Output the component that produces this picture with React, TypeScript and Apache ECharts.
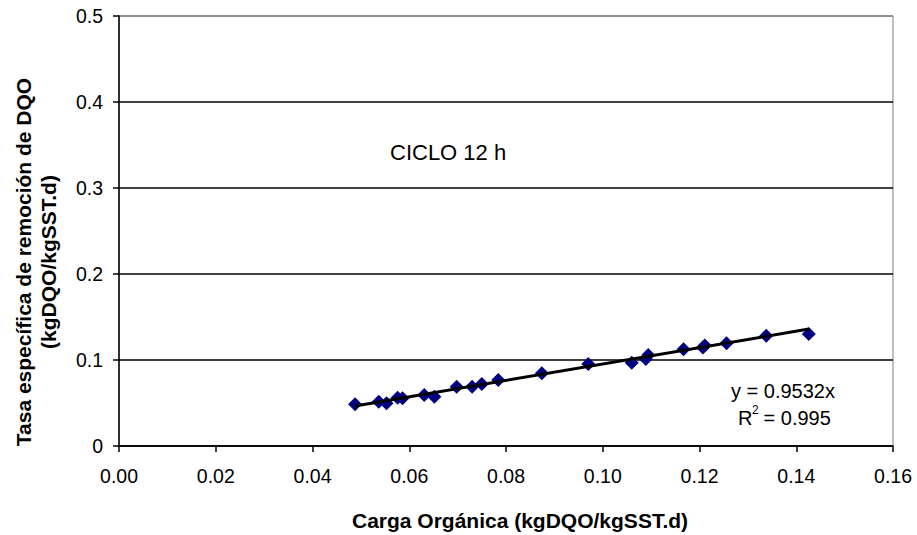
import React, { useEffect, useRef } from "react";
import * as echarts from "echarts";

const xValues = [0.0488, 0.0537, 0.0553, 0.0576, 0.0586, 0.0631, 0.0652, 0.0698, 0.0730, 0.0750, 0.0784, 0.0874, 0.0970, 0.1060, 0.1089, 0.1094, 0.1167, 0.1207, 0.1211, 0.1256, 0.1338, 0.1426];
const yValues = [0.0485, 0.0515, 0.0497, 0.0562, 0.0555, 0.0593, 0.0573, 0.0690, 0.0690, 0.0721, 0.0767, 0.0845, 0.0953, 0.0969, 0.1012, 0.1058, 0.1124, 0.1145, 0.1169, 0.1194, 0.1283, 0.1302];
const slope = 0.9532;
const trendX = [0.0488, 0.1426];
const xTicks = { min: 0, max: 0.16, interval: 0.02 };
const yTicks = { min: 0, max: 0.5, interval: 0.1 };
const xTitle = "Carga Orgánica (kgDQO/kgSST.d)";
const yTitle = "Tasa específica de remoción de DQO\n(kgDQO/kgSST.d)";
const note = "CICLO 12 h";
const eqText = "y = 0.9532x";
const r2Value = "0.995";

const FONT = "'Liberation Sans', Arial, sans-serif";

export default function App() {
  const ref = useRef<HTMLDivElement>(null);
  useEffect(() => {
    document.body.style.margin = "0";
    const chart = echarts.init(ref.current!, null, { renderer: "svg" });
    const scatter = xValues.map((x, i) => [x, yValues[i]]);
    const trend = trendX.map((x) => [x, slope * x]);
    chart.setOption({
      animation: false,
      backgroundColor: "#ffffff",
      textStyle: { fontFamily: FONT },
      grid: {
        left: 119,
        right: 24,
        top: 16,
        bottom: 89,
        show: true,
        borderColor: "#808080",
        borderWidth: 1,
      },
      xAxis: {
        type: "value",
        min: xTicks.min,
        max: xTicks.max,
        interval: xTicks.interval,
        axisLine: { show: true, lineStyle: { color: "#000", width: 1.5 } },
        axisTick: { show: true, length: 6, lineStyle: { color: "#000", width: 1.5 } },
        axisLabel: {
          margin: 20,
          fontSize: 19.5,
          color: "#000",
          fontFamily: FONT,
          formatter: (v: number) => v.toFixed(2),
        },
        splitLine: { show: false },
      },
      yAxis: {
        type: "value",
        min: yTicks.min,
        max: yTicks.max,
        interval: yTicks.interval,
        axisLine: { show: true, lineStyle: { color: "#000", width: 1.5 } },
        axisTick: { show: true, length: 6, lineStyle: { color: "#000", width: 1.5 } },
        axisLabel: {
          margin: 16,
          fontSize: 19.5,
          color: "#000",
          fontFamily: FONT,
          formatter: (v: number) => (v === 0 ? "0" : v.toFixed(1)),
        },
        splitLine: {
          show: true,
          lineStyle: { color: ["#000", "#000", "#000", "#000", "#000", "#808080"], width: 1.5 },
        },
      },
      series: [
        {
          type: "line",
          data: trend,
          symbol: "none",
          lineStyle: { color: "#000", width: 3 },
          z: 3,
        },
        {
          type: "scatter",
          data: scatter,
          symbol: "diamond",
          symbolSize: 14,
          itemStyle: { color: "#000080", opacity: 1 },
          z: 2,
        },
      ],
      graphic: [
        {
          type: "text",
          x: 390,
          y: 152,
          style: { text: note, fontSize: 22, fontFamily: FONT, fill: "#000", textVerticalAlign: "middle" },
        },
        {
          type: "text",
          x: 783,
          y: 391,
          style: { text: eqText, fontSize: 20, fontFamily: FONT, fill: "#000", textAlign: "center", textVerticalAlign: "middle" },
        },
        {
          type: "text",
          x: 738,
          y: 418,
          style: { text: "R", fontSize: 20, fontFamily: FONT, fill: "#000", textAlign: "left", textVerticalAlign: "middle" },
        },
        {
          type: "text",
          x: 752,
          y: 410,
          style: { text: "2", fontSize: 12, fontFamily: FONT, fill: "#000", textAlign: "left", textVerticalAlign: "middle" },
        },
        {
          type: "text",
          x: 758,
          y: 418,
          style: { text: " = " + r2Value, fontSize: 20, fontFamily: FONT, fill: "#000", textAlign: "left", textVerticalAlign: "middle" },
        },
        {
          type: "text",
          x: 520,
          y: 520,
          style: { text: xTitle, fontSize: 21, fontWeight: "bold", fontFamily: FONT, fill: "#000", textAlign: "center", textVerticalAlign: "middle" },
        },
        {
          type: "text",
          x: 36,
          y: 262,
          rotation: Math.PI / 2,
          style: {
            text: yTitle,
            fontSize: 21,
            fontWeight: "bold",
            fontFamily: FONT,
            fill: "#000",
            textAlign: "center",
            textVerticalAlign: "middle",
            lineHeight: 25,
          },
        },
      ],
    });
    return () => chart.dispose();
  }, []);
  return <div ref={ref} style={{ width: 917, height: 535 }} />;
}
